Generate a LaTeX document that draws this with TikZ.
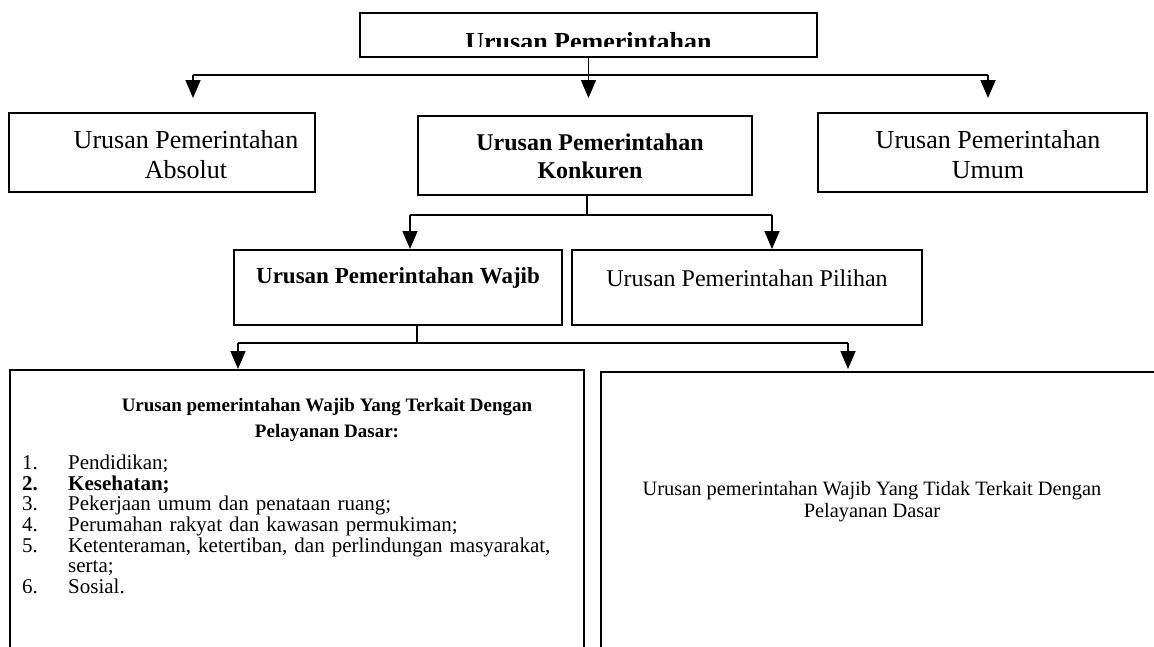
\documentclass[tikz,border=0pt]{standalone}
\usepackage{fontspec}
\setmainfont{Liberation Serif}
\usetikzlibrary{arrows.meta}
\begin{document}
\begin{tikzpicture}[x=1pt,y=-1pt,
 box/.style={draw,line width=1.6pt,inner sep=0pt,outer sep=0pt},
 ln/.style={line width=1.8pt},
 arr/.style={line width=1.8pt,-{Triangle[length=18pt,width=15pt]}},
 big/.style={font=\fontsize{26}{30}\selectfont,align=center},
 bigb/.style={font=\bfseries\fontsize{24}{28}\selectfont,align=center},
]
\clip (0,0) rectangle (1154,646);
\fill[white] (0,0) rectangle (1154,646);
% top
\node[box,minimum width=457pt,minimum height=44pt] (top) at (588.5,35) {};
\begin{scope}
\clip (360,14) rectangle (817,46);
\node[font=\bfseries\fontsize{26}{30}\selectfont,anchor=base,inner sep=0pt] (toptext) at (588.5,50) {Urusan Pemerintahan};
\end{scope}
% row 2
\node[box,minimum width=306pt,minimum height=79pt] (abs) at (162,152.5) {};
\node[big] (abst) at (186,155) {Urusan Pemerintahan\\Absolut};
\node[box,minimum width=334pt,minimum height=79pt] (konk) at (585,155.5) {};
\node[bigb] (konkt) at (590,156) {Urusan Pemerintahan\\Konkuren};
\node[box,minimum width=329pt,minimum height=79pt] (umum) at (982.5,152.5) {};
\node[big] (umumt) at (988,155) {Urusan Pemerintahan\\Umum};
% row 3
\node[box,minimum width=328pt,minimum height=75pt] (wajib) at (398,287.5) {};
\node[font=\bfseries\fontsize{23}{28}\selectfont] (wajibt) at (398,278) {Urusan Pemerintahan Wajib};
\node[box,minimum width=350pt,minimum height=75pt] (pilihan) at (747,287.5) {};
\node[font=\fontsize{24}{28}\selectfont] (piliht) at (747,278) {Urusan Pemerintahan Pilihan};
% row 4
\node[box,anchor=north west,minimum width=574pt,minimum height=300pt] (dasar) at (10,370) {};
\node[font=\bfseries\fontsize{19}{26}\selectfont,align=center] (dasart) at (327,420) {Urusan pemerintahan Wajib Yang Terkait Dengan\\Pelayanan Dasar:};
\node[anchor=north west,inner sep=0pt,text width=560pt,align=left,font=\fontsize{21}{20.6}\selectfont] (list) at (22,455) {%
\makebox[46pt][l]{1.}Pendidikan;\\
\textbf{\makebox[46pt][l]{2.}Kesehatan;}\\
\makebox[46pt][l]{3.}Pekerjaan umum dan penataan ruang;\\
\makebox[46pt][l]{4.}Perumahan rakyat dan kawasan permukiman;\\
\makebox[46pt][l]{5.}Ketenteraman, ketertiban, dan perlindungan masyarakat,\\
\makebox[46pt][l]{}serta;\\
\makebox[46pt][l]{6.}Sosial.};
\node[box,anchor=north west,minimum width=600pt,minimum height=300pt] (tidak) at (601,372) {};
\node[font=\fontsize{20.4}{22}\selectfont,align=center] (tidakt) at (872,502) {Urusan pemerintahan Wajib Yang Tidak Terkait Dengan\\Pelayanan Dasar};
% connectors level 1
\coordinate (hL) at (193,75);
\coordinate (hR) at (988,75);
\coordinate (tA) at (193,98);
\coordinate (tK) at (588.5,98);
\coordinate (tU) at (988,98);
\draw[ln] (hL) -- (hR);
\draw[arr] (top.south) -- (tK);
\draw[arr] (hL) -- (tA);
\draw[arr] (hR) -- (tU);
% connectors level 2
\coordinate (k1) at (587,215);
\coordinate (kL) at (410,215);
\coordinate (kR) at (772,215);
\coordinate (tW) at (410,249);
\coordinate (tP) at (772,249);
\draw[line width=1.2pt] (k1 |- konk.south) -- (k1);
\draw[ln] (kL) -- (kR);
\draw[arr] (kL) -- (tW);
\draw[arr] (kR) -- (tP);
% connectors level 3
\coordinate (w1) at (417,343);
\coordinate (wL) at (238,343);
\coordinate (wR) at (848,343);
\coordinate (tD) at (238,369);
\coordinate (tT) at (848,369);
\draw[line width=1.2pt] (w1 |- wajib.south) -- (w1);
\draw[ln] (wL) -- (wR);
\draw[arr] (wL) -- (tD);
\draw[arr] (wR) -- (tT);
\end{tikzpicture}
\end{document}
